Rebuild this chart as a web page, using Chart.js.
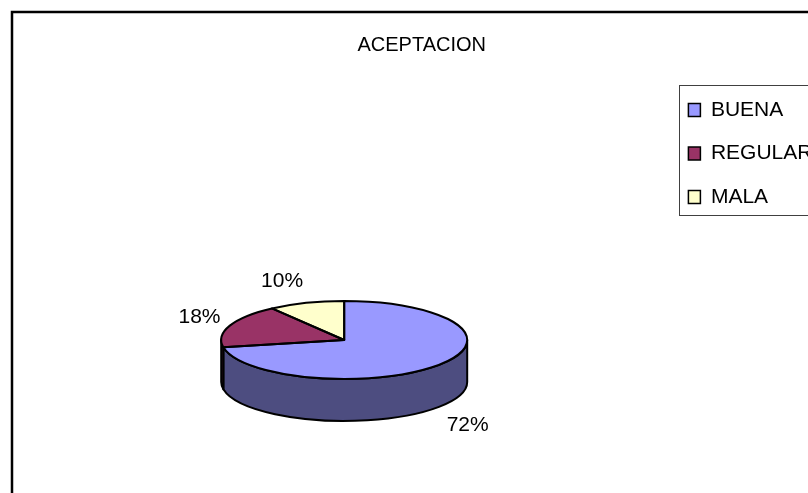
<!DOCTYPE html>
<html><head><meta charset="utf-8">
<script src="https://cdn.jsdelivr.net/npm/chart.js@4.4.1/dist/chart.umd.min.js"></script>
<style>html,body{margin:0;padding:0;background:#fff;overflow:hidden}canvas{display:block}</style>
</head><body>
<canvas id="c" width="808" height="493"></canvas>
<script>
const chartTitle = 'ACEPTACION';
const categories = ['BUENA', 'REGULAR', 'MALA'];
const values = [72, 18, 10];
const topColors = ['#9999FF', '#993366', '#FFFFCC'];
const sideColors = ['#4D4D80', '#4D1A33', '#808066'];

const FONT = "'Liberation Sans Narrow', 'Arial Narrow', 'Liberation Sans', Arial, sans-serif";
const FONT_SIZE = 21;
const TILT = 39 / 123;
const DEPTH = 42;
const LEG_PAD = 22.5;
const LEG_TITLE_H = 63;

const pie3d = {
  id: 'pie3d',
  beforeDraw(chart) {
    const ctx = chart.ctx;
    ctx.save();
    ctx.fillStyle = '#fff';
    ctx.fillRect(0, 0, chart.width, chart.height);
    ctx.strokeStyle = '#000';
    ctx.lineWidth = 2.5;
    ctx.strokeRect(12, 12, chart.width + 40, chart.height + 40);
    const lg = chart.legend;
    ctx.lineWidth = 1;
    ctx.strokeStyle = '#404040';
    const fx = Math.round(lg.left + LEG_PAD - 9) + 0.5;
    const fy = Math.round(lg.top + LEG_TITLE_H + LEG_PAD - 14.5) + 0.5;
    ctx.strokeRect(fx, fy, chart.width, 130);
    ctx.restore();
  },
  beforeDatasetsDraw(chart) {
    const ctx = chart.ctx;
    const arcs = chart.getDatasetMeta(0).data;
    const cx = arcs[0].x, cy = arcs[0].y, r = arcs[0].outerRadius, ry = r * TILT;
    ctx.save();
    ctx.lineWidth = 2;
    ctx.strokeStyle = '#000';
    ctx.lineJoin = 'round';
    arcs.forEach((a, i) => {
      for (const off of [-2 * Math.PI, 0, 2 * Math.PI]) {
        const s = Math.max(a.startAngle, off), e = Math.min(a.endAngle, off + Math.PI);
        if (e - s <= 1e-6) continue;
        const a1 = s - off, a2 = e - off;
        ctx.beginPath();
        ctx.ellipse(cx, cy, r, ry, 0, a1, a2, false);
        ctx.lineTo(cx + r * Math.cos(a2), cy + ry * Math.sin(a2) + DEPTH);
        ctx.ellipse(cx, cy + DEPTH, r, ry, 0, a2, a1, true);
        ctx.closePath();
        ctx.fillStyle = sideColors[i];
        ctx.fill();
        ctx.stroke();
      }
    });
    ctx.restore();
    ctx.save();
    ctx.translate(0, cy);
    ctx.scale(1, TILT);
    ctx.translate(0, -cy);
  },
  afterDatasetsDraw(chart) {
    const ctx = chart.ctx;
    ctx.restore();
    const arcs = chart.getDatasetMeta(0).data;
    const cx = arcs[0].x, cy = arcs[0].y, r = arcs[0].outerRadius, ry = r * TILT;
    ctx.save();
    ctx.lineWidth = 2;
    ctx.strokeStyle = '#000';
    ctx.lineJoin = 'round';
    arcs.forEach((a) => {
      ctx.beginPath();
      ctx.moveTo(cx, cy);
      ctx.ellipse(cx, cy, r, ry, 0, a.startAngle, a.endAngle, false);
      ctx.closePath();
      ctx.stroke();
    });
    const total = values.reduce((p, v) => p + v, 0);
    ctx.font = FONT_SIZE + 'px ' + FONT;
    ctx.fillStyle = '#000';
    ctx.textAlign = 'center';
    ctx.textBaseline = 'middle';
    arcs.forEach((a, i) => {
      const mid = (a.startAngle + a.endAngle) / 2;
      const c = Math.cos(mid), s = Math.sin(mid);
      const front = s > 0;
      const gap = front ? 16 : 10;
      const ex = cx + r * c, ey = cy + ry * s + (front ? DEPTH : 0);
      const ax = ex + (front ? 10 : gap) * c, ay = ey + gap * s;
      const txt = Math.round(values[i] / total * 100) + '%';
      const w = ctx.measureText(txt).width;
      const tx = c >= 0 ? ax + w / 2 : ax - w / 2;
      const ty = ay + (FONT_SIZE / 2 + 2) * s;
      ctx.fillText(txt, tx, ty);
    });
    ctx.restore();
  }
};

new Chart(document.getElementById('c'), {
  type: 'pie',
  data: {
    labels: categories,
    datasets: [{ data: values, backgroundColor: topColors, borderWidth: 0, radius: 123 }]
  },
  options: {
    responsive: false,
    animation: false,
    layout: { padding: { left: LEG_PAD, right: -12.9, top: 14, bottom: 0 } },
    plugins: {
      title: {
        display: true, text: chartTitle, color: '#000',
        font: { family: FONT, size: 20, weight: 'normal' },
        padding: { top: 19.5, bottom: 129.5 }
      },
      legend: {
        position: 'right', align: 'start', maxWidth: 155, fullSize: true,
        title: { display: true, text: '', font: { size: 10, lineHeight: 1 }, padding: { top: LEG_TITLE_H - 10, bottom: 0 } },
        labels: {
          font: { family: FONT, size: FONT_SIZE }, color: '#000',
          boxWidth: 12, boxHeight: 13, padding: LEG_PAD,
          generateLabels(chart) {
            const items = Chart.overrides.pie.plugins.legend.labels.generateLabels(chart);
            items.forEach(it => { it.strokeStyle = '#000'; it.lineWidth = 1.5; });
            return items;
          }
        }
      },
      tooltip: { enabled: false }
    }
  },
  plugins: [pie3d]
});
</script>
</body></html>
